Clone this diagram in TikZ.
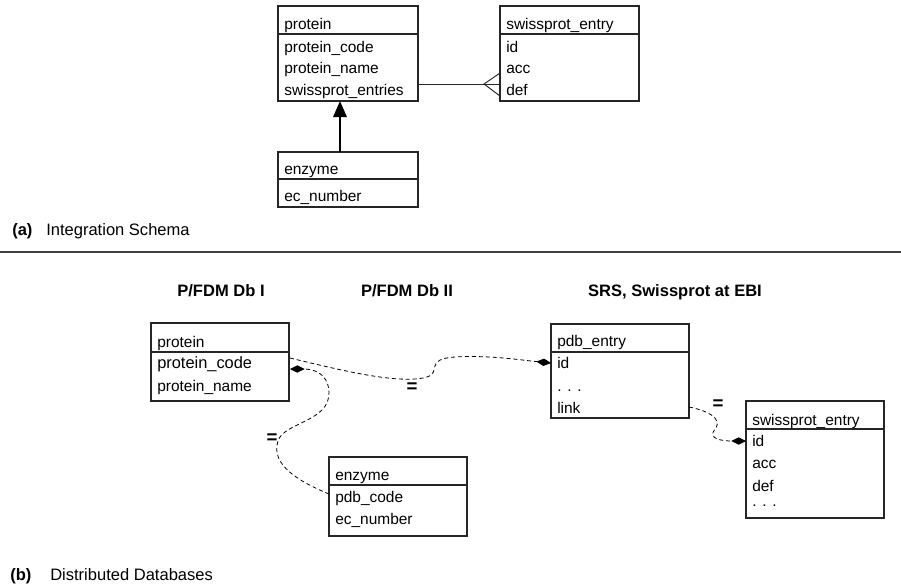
\documentclass[tikz,border=0pt]{standalone}
\usepackage{fontspec}
\setmainfont{Liberation Sans}
\usetikzlibrary{arrows.meta,fit}
\begin{document}
\begin{tikzpicture}[x=0.75pt,y=-0.75pt,
  tbl/.style={draw=black!85, line width=0.8pt, inner sep=0pt},
  txt/.style={anchor=base west, inner sep=0pt, font=\fontsize{11.6pt}{14pt}\selectfont},
  txtbig/.style={anchor=base west, inner sep=0pt, font=\fontsize{12.3pt}{14pt}\selectfont},
  lbl/.style={anchor=base west, inner sep=0pt, font=\fontsize{12.4pt}{15pt}\selectfont},
  lblb/.style={anchor=base west, inner sep=0pt, font=\bfseries\fontsize{12.4pt}{15pt}\selectfont},
  ttl/.style={anchor=base, inner sep=0pt, font=\bfseries\fontsize{12.4pt}{15pt}\selectfont},
  eq/.style={inner sep=0pt, font=\bfseries\fontsize{14pt}{16pt}\selectfont},
  lnk/.style={line width=0.6pt, dash pattern=on 3pt off 2.2pt, -{Diamond[length=11pt,width=5.5pt]}},
  inh/.style={line width=1.6pt, -{Triangle[length=12pt,width=10pt]}},
  rel/.style={line width=0.7pt, draw=black!85}]
\useasboundingbox (0,0) rectangle (901,586);

% ---------- (a) Integration schema ----------
\node[tbl, fit={(278,6)(418,34)}] (protAh) {};
\node[tbl, fit={(278,34)(418,101)}] (protAb) {};
\node[txt] (tA1) at (284,29) {protein};
\node[txt] (tA2) at (284,52) {protein\_code};
\node[txt] (tA3) at (284,73) {protein\_name};
\node[txt] (tA4) at (284,95) {swissprot\_entries};

\node[tbl, fit={(500,6)(639,34)}] (swAh) {};
\node[tbl, fit={(500,34)(639,101)}] (swAb) {};
\node[txt] (tS1) at (506,29) {swissprot\_entry};
\node[txt] (tS2) at (506,52) {id};
\node[txt] (tS3) at (506,73) {acc};
\node[txt] (tS4) at (506,95) {def};

\node[tbl, fit={(278,152)(418,179)}] (enzAh) {};
\node[tbl, fit={(278,179)(418,207)}] (enzAb) {};
\node[txt] (tE1) at (284,174) {enzyme};
\node[txt] (tE2) at (284,201) {ec\_number};

\coordinate (seR) at (418,84);
\coordinate (cf) at (484,84);
\coordinate (swL) at (500,84);
\coordinate (swL1) at (500,73);
\coordinate (swL2) at (500,96);
\draw[rel] (seR) -- (swL);
\draw[rel] (swL1) -- (cf) -- (swL2);

\coordinate (inhS) at (340,152);
\coordinate (inhE) at (340,101);
\draw[inh] (inhS) -- (inhE);

\node[lblb] (la) at (12,235) {(a)};
\node[lbl] (lat) at (46,235) {Integration Schema};

\coordinate (sepL) at (0,252);
\coordinate (sepR) at (901,252);
\draw[line width=0.9pt, black!75] (sepL) -- (sepR);

% ---------- (b) Distributed databases ----------
\node[ttl] (h1) at (221,296) {P/FDM Db I};
\node[ttl] (h2) at (407,296) {P/FDM Db II};
\node[ttl] (h3) at (675,296) {SRS, Swissprot at EBI};

\node[tbl, fit={(151,323)(289,352)}] (protBh) {};
\node[tbl, fit={(151,352)(289,401)}] (protBb) {};
\node[txt] (tB1) at (157,347) {protein};
\node[txtbig] (tB2) at (157,368) {protein\_code};
\node[txt] (tB3) at (157,391) {protein\_name};

\node[tbl, fit={(329,457)(467,485)}] (enzBh) {};
\node[tbl, fit={(329,485)(467,536)}] (enzBb) {};
\node[txt] (tF1) at (335,480) {enzyme};
\node[txt] (tF2) at (335,502) {pdb\_code};
\node[txt] (tF3) at (335,524) {ec\_number};

\node[tbl, fit={(551,324)(689,352)}] (pdbBh) {};
\node[tbl, fit={(551,352)(689,418)}] (pdbBb) {};
\node[txt] (tP1) at (557,346) {pdb\_entry};
\node[txt] (tP2) at (557,368) {id};
\node[txt] (tP3) at (557,391) {. . .};
\node[txt] (tP4) at (557,413) {link};

\node[tbl, fit={(746,401)(884,429)}] (swBh) {};
\node[tbl, fit={(746,429)(884,518)}] (swBb) {};
\node[txt] (tW1) at (752,425) {swissprot\_entry};
\node[txt] (tW2) at (752,446) {id};
\node[txt] (tW3) at (752,468) {acc};
\node[txt] (tW4) at (752,491) {def};
\node[txt] (tW5) at (752,506) {. . .};

% connectors
\coordinate (pcR) at (290,358);
\coordinate (pcR2) at (290,369);
\coordinate (pidL) at (551,363);
\coordinate (pcodeL) at (329,494);
\coordinate (linkR) at (689,407);
\coordinate (swidL) at (746,441);

\draw[lnk] (pcR) .. controls (340,370) and (400,385) .. (427,377)
  .. controls (442,372) and (424,359) .. (455,357)
  .. controls (490,355) and (520,360) .. (pidL);
\draw[lnk] (pcodeL) .. controls (300,482) and (270,465) .. (278,441)
  .. controls (284,422) and (330,422) .. (329,392)
  .. controls (328,372) and (312,369) .. (pcR2);
\draw[lnk] (linkR) .. controls (705,410) and (724,418) .. (715,429)
  .. controls (707,439) and (722,441) .. (swidL);

\node[eq] (e1) at (412,388) {=};
\node[eq] (e2) at (272,439) {=};
\node[eq] (e3) at (718,405) {=};

\node[lblb] (lb) at (10,580) {(b)};
\node[lbl] (lbt) at (50,580) {Distributed Databases};
\end{tikzpicture}
\end{document}
